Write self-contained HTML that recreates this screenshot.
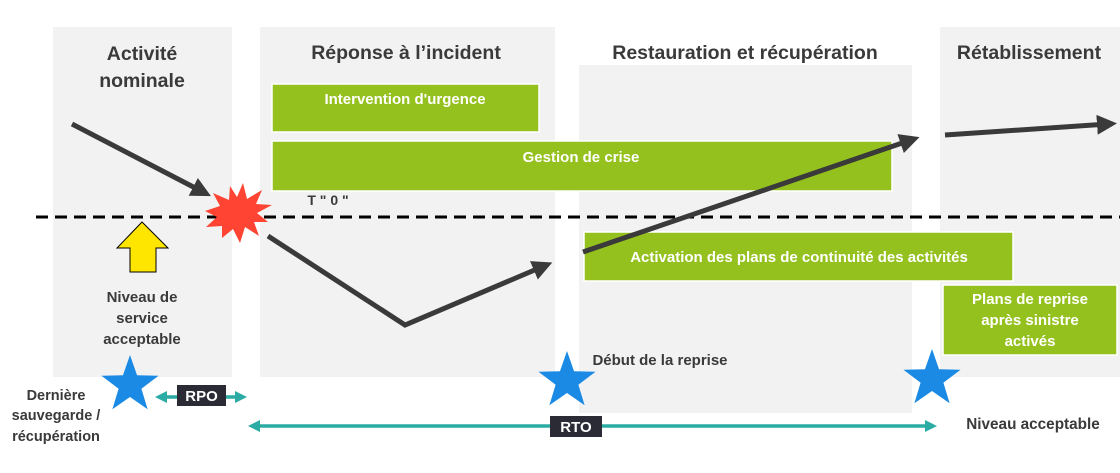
<!DOCTYPE html>
<html><head><meta charset="utf-8"><style>
html,body{margin:0;padding:0;background:#fff;}
svg{display:block;font-family:"Liberation Sans",sans-serif;font-weight:bold;}
</style></head><body>
<svg width="1120" height="473" viewBox="0 0 1120 473" xmlns="http://www.w3.org/2000/svg">
<defs>
<marker id="ah" markerWidth="4" markerHeight="4" refX="2.2" refY="2" orient="auto" markerUnits="strokeWidth"><path d="M0,0 L4,2 L0,4 Z" fill="#3a3a3a"/></marker>
<g id="star"><polygon points="0,-30 7.05,-9.71 28.53,-9.27 11.41,3.71 17.63,24.27 0,12 -17.63,24.27 -11.41,3.71 -28.53,-9.27 -7.05,-9.71" fill="#1a8ae5"/></g>
</defs>
<rect x="53" y="27" width="179" height="350" fill="#f2f2f2"/>
<rect x="260" y="27" width="295" height="350" fill="#f2f2f2"/>
<rect x="579" y="65" width="333" height="348" fill="#f2f2f2"/>
<rect x="940" y="27" width="180" height="350" fill="#f2f2f2"/>
<g fill="#3a3a3a" font-size="19.5" text-anchor="middle">
<text x="142" y="60">Activité</text>
<text x="142" y="87">nominale</text>
<text x="406" y="59">Réponse à l’incident</text>
<text x="745" y="59">Restauration et récupération</text>
<text x="1029" y="59">Rétablissement</text>
</g>
<g fill="#95c11f" stroke="#fff" stroke-width="1.5">
<rect x="272" y="84" width="267" height="48"/>
<rect x="272" y="141" width="620" height="50"/>
<rect x="584" y="232" width="429" height="49"/>
<rect x="943" y="285" width="174" height="70"/>
</g>
<g fill="#fff" font-size="15" text-anchor="middle">
<text x="405" y="104">Intervention d'urgence</text>
<text x="581" y="162">Gestion de crise</text>
<text x="799" y="262">Activation des plans de continuité des activités</text>
<text x="1030" y="304">Plans de reprise</text>
<text x="1030" y="325">après sinistre</text>
<text x="1030" y="346">activés</text>
</g>
<line x1="36" y1="217" x2="1120" y2="217" stroke="#000" stroke-width="3" stroke-dasharray="12,7"/>
<g stroke="#3a3a3a" stroke-width="5" fill="none" stroke-linejoin="miter">
<line x1="72" y1="124" x2="203" y2="192" marker-end="url(#ah)"/>
<polyline points="268,236 405,325 544,266" marker-end="url(#ah)"/>
<line x1="583" y1="252" x2="911" y2="140" marker-end="url(#ah)"/>
<line x1="945" y1="135" x2="1108" y2="124" marker-end="url(#ah)"/>
</g>
<polygon points="243,183 247,199 262,190 256,204 272,205 257,213 268,222 254,222 259,236 245,227 240,243 233,229 222,238 222,226 206,227 217,217 205,211 220,206 213,193 229,200 230,186 237,197" fill="#ff4433"/>
<text x="328" y="205" font-size="14" fill="#3a3a3a" text-anchor="middle">T " 0 "</text>
<polygon points="142,222 168,248 156,248 156,272 130,272 130,248 117,248" fill="#ffe600" stroke="#000" stroke-width="1"/>
<g fill="#3a3a3a" font-size="15" text-anchor="middle">
<text x="142" y="302">Niveau de</text>
<text x="142" y="323">service</text>
<text x="142" y="344">acceptable</text>
<text x="660" y="365">Début de la reprise</text>
</g>
<g fill="#3a3a3a" font-size="14.5" text-anchor="middle">
<text x="56" y="400">Dernière</text>
<text x="56" y="420">sauvegarde /</text>
<text x="56" y="441">récupération</text>
</g>
<text x="1033" y="429" fill="#3a3a3a" font-size="15.3" text-anchor="middle">Niveau acceptable</text>
<use href="#star" x="130" y="385"/>
<use href="#star" x="567" y="381"/>
<use href="#star" x="932" y="379"/>
<g stroke="#2aaca4" stroke-width="3.5">
<line x1="163" y1="397" x2="240" y2="397"/>
<line x1="256" y1="426" x2="928" y2="426"/>
</g>
<g fill="#2aaca4">
<polygon points="155,397 167,391 167,403"/>
<polygon points="247,397 235,391 235,403"/>
<polygon points="248,426 260,420 260,432"/>
<polygon points="937,426 925,420 925,432"/>
</g>
<rect x="177" y="385" width="49" height="21" fill="#2b2b36"/>
<text x="201.5" y="401" fill="#fff" font-size="15" text-anchor="middle">RPO</text>
<rect x="550" y="416" width="52" height="21" fill="#2b2b36"/>
<text x="576" y="432" fill="#fff" font-size="15" text-anchor="middle">RTO</text>
</svg>
</body></html>
